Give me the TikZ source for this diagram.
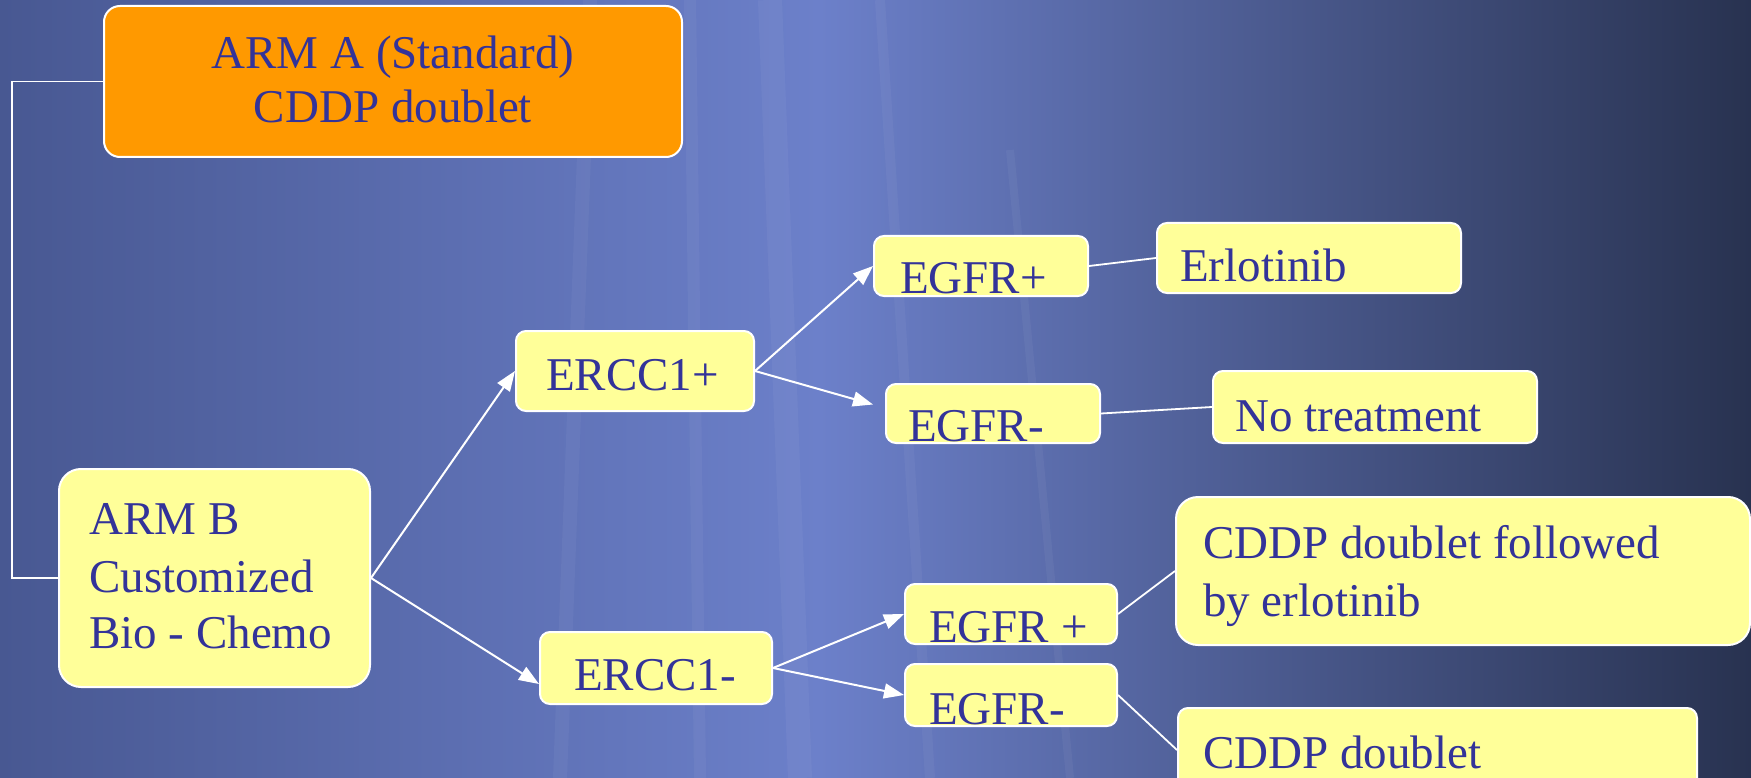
\documentclass[tikz,border=0pt]{standalone}
\usepackage{fontspec}
\setmainfont{Liberation Serif}
\usetikzlibrary{arrows.meta}
\definecolor{txt}{RGB}{51,51,153}
\definecolor{boxy}{RGB}{255,255,153}
\definecolor{boxo}{RGB}{255,153,0}
\definecolor{bgl}{RGB}{72,88,146}
\definecolor{bgm}{RGB}{108,128,202}
\definecolor{bgr}{RGB}{40,50,80}
\begin{document}
\begin{tikzpicture}[x=1pt,y=-1pt,
  box/.style={draw=white, line width=2pt, fill=boxy, rounded corners=10pt, inner sep=0pt},
  bigbox/.style={box, rounded corners=22pt},
  lab/.style={text=txt, font=\fontspec{Liberation Serif}\fontsize{47}{54}\selectfont, anchor=base west, inner sep=0pt},
  clab/.style={lab, anchor=base},
  arr/.style={draw=white, line width=2pt, -{Triangle[length=20pt,width=15pt]}},
  ln/.style={draw=white, line width=1.8pt},
  streak/.style={draw=white, opacity=0.045}]
\useasboundingbox (0,0) rectangle (1751,778);
\clip (0,0) rectangle (1751,778);
% background
\shade[left color=bgl, right color=bgm] (0,0) rectangle (820,778);
\shade[left color=bgm, right color=bgr] (819,0) rectangle (1751,778);
\draw[streak, line width=24pt] (770,0) -- (800,778);
\draw[streak, line width=10pt] (880,0) -- (930,778);
\draw[streak, line width=14pt] (590,0) -- (560,778);
\draw[streak, line width=8pt] (1010,150) -- (1070,778);
\draw[streak, line width=12pt] (690,0) -- (700,778);
% boxes
\node[box, fill=boxo, rounded corners=16pt, minimum width=578pt, minimum height=151pt] (armA) at (393,81.5) {};
\node[bigbox, minimum width=311pt, minimum height=218pt] (armB) at (214.5,578) {};
\node[box, minimum width=238pt, minimum height=80pt] (erccp) at (635,371) {};
\node[box, minimum width=232pt, minimum height=72pt] (erccm) at (656,668) {};
\node[box, minimum width=214pt, minimum height=60pt] (egfrpa) at (981,266) {};
\node[box, minimum width=214pt, minimum height=59pt] (egfrma) at (993,413.5) {};
\node[box, minimum width=304pt, minimum height=70pt] (erlo) at (1309,258) {};
\node[box, minimum width=324pt, minimum height=72pt] (notr) at (1375,407) {};
\node[box, minimum width=212pt, minimum height=60pt] (egfrpb) at (1011,614) {};
\node[box, minimum width=212pt, minimum height=62pt] (egfrmb) at (1011,695) {};
\node[bigbox, minimum width=574pt, minimum height=148pt] (cddpf) at (1463,571) {};
\node[box, minimum width=519pt, minimum height=84pt] (cddp) at (1437.5,750) {};
% texts
\node[clab] (tA1) at (393,69) {ARM A (Standard)};
\node[clab] (tA2) at (393,123) {CDDP doublet};
\node[lab] (tB1) at (89,534) {ARM B};
\node[lab] (tB2) at (89,592) {Customized};
\node[lab] (tB3) at (89,648) {Bio - Chemo};
\node[lab] (tEp) at (546,390) {ERCC1+};
\node[lab] (tEm) at (574,690) {ERCC1-};
\node[lab] (tGpa) at (900,293) {EGFR+};
\node[lab] (tGma) at (908,441) {EGFR-};
\node[lab] (tErlo) at (1180,281) {Erlotinib};
\node[lab] (tNo) at (1235,431) {No treatment};
\node[lab] (tGpb) at (929,642) {EGFR +};
\node[lab] (tGmb) at (929,724) {EGFR-};
\node[lab] (tC1) at (1203,558) {CDDP doublet followed};
\node[lab] (tC2) at (1203,616) {by erlotinib};
\node[lab] (tC3) at (1203,768) {CDDP doublet};
% connectors
\coordinate (bk) at (12,81.5);
\draw[ln] (armA.west) -- (bk) |- (armB.west);
\draw[arr] (armB.east) -- (erccp.west);
\draw[arr] (armB.east) -- ([yshift=-16pt]erccm.west);
\draw[arr] (erccp.east) -- (egfrpa.west);
\draw[arr] (erccp.east) -- ([xshift=-12pt,yshift=9pt]egfrma.west);
\draw[arr] (erccm.east) -- (egfrpb.west);
\draw[arr] (erccm.east) -- (egfrmb.west);
\draw[ln] (egfrpa.east) -- (erlo.west);
\draw[ln] (egfrma.east) -- (notr.west);
\draw[ln] (egfrpb.east) -- (cddpf.west);
\draw[ln] (egfrmb.east) -- (cddp.west);
\end{tikzpicture}
\end{document}
